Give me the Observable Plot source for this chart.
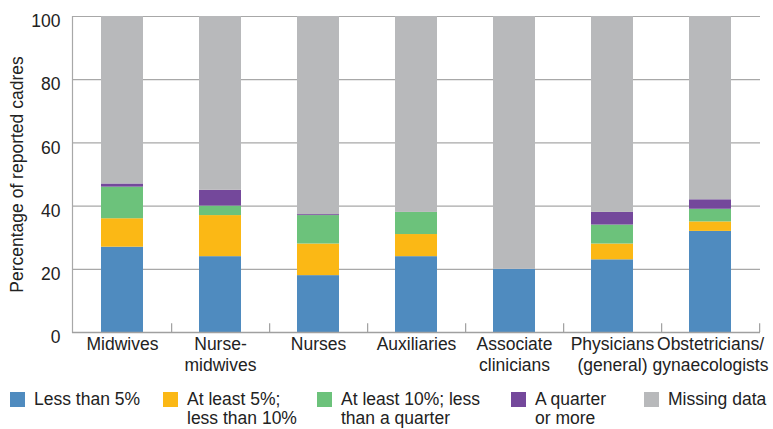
<!DOCTYPE html>
<html><head><meta charset="utf-8">
<script src="https://cdn.jsdelivr.net/npm/d3@7"></script>
<script src="https://cdn.jsdelivr.net/npm/@observablehq/plot@0.6"></script>
<style>
body{margin:0;background:#fff;font-family:"Liberation Sans",Arial,sans-serif;color:#222;}
#chart{position:relative;width:773px;height:429px;overflow:hidden;}
.item{position:absolute;top:390px;font-size:17.5px;line-height:19px;white-space:pre;}
.sw{position:absolute;left:0;top:2px;width:15px;height:15px;}
.lbl{position:absolute;left:24px;top:0;}
</style></head>
<body><div id="chart"></div>
<script>
const categories = ["Midwives","Nurse-midwives","Nurses","Auxiliaries","Associate clinicians","Physicians (general)","Obstetricians/gynaecologists"];
const categoryLabels = ["Midwives","Nurse-\nmidwives","Nurses","Auxiliaries","Associate\nclinicians","Physicians\n(general)","Obstetricians/\ngynaecologists"];
const series = ["Less than 5%","At least 5%; less than 10%","At least 10%; less than a quarter","A quarter or more","Missing data"];
const seriesLabels = ["Less than 5%","At least 5%;\nless than 10%","At least 10%; less\nthan a quarter","A quarter\nor more","Missing data"];
const lessThan5 = [27,24,18,24,20,23,32];
const from5to10 = [9,13,10,7,0,5,3];
const from10toQuarter = [10,3,9,7,0,6,4];
const quarterOrMore = [1,5,0.3,0,0,4,3];
const missingData = [53,55,62.7,62,80,62,58];
const yTicks = [0,20,40,60,80,100];
const colors = ["#4f8bbf","#fbb815","#6cc27b","#74489b","#b8b9bb"];

const seriesValues = [lessThan5, from5to10, from10toQuarter, quarterOrMore, missingData];
const table = [];
categories.forEach((c, i) => series.forEach((s, j) => table.push({category: c, series: s, value: seriesValues[j][i]})));

const W = 773, mL = 72, mR = 13;
const step = (W - mL - mR) / categories.length;
const labelOf = new Map(categories.map((c, i) => [c, categoryLabels[i]]));

const plot = Plot.plot({
  width: W, height: 378,
  marginTop: 16, marginBottom: 46, marginLeft: mL, marginRight: mR,
  style: {fontFamily: '"Liberation Sans", Arial, sans-serif', fontSize: "17.5px", color: "#222"},
  x: {domain: categories, paddingInner: 0.57, paddingOuter: 0.285, label: null},
  y: {domain: [0, 100], label: null},
  color: {domain: series, range: colors},
  marks: [
    Plot.gridY(yTicks.filter(d => d > 0), {stroke: "#a8a8a8", strokeOpacity: 1, strokeWidth: 1.2}),
    Plot.frame({anchor: "left", stroke: "#a8a8a8", strokeWidth: 1.2}),
    Plot.barY(table, {x: "category", y: "value", fill: "series", order: series, inset: 0}),
    Plot.ruleY([0], {stroke: "#a0a0a0", strokeWidth: 1.6}),
    Plot.ruleX(categories, {x: d => d, dx: step / 2, y1: 0, y2: 2.8, stroke: "#a0a0a0", strokeWidth: 1.2}),
    Plot.axisY(yTicks, {tickSize: 0, tickPadding: 12, dy: 5, label: "Percentage of reported cadres", labelAnchor: "center", labelArrow: "none", labelOffset: 62}),
    Plot.axisX({tickSize: 0, tickPadding: 3, tickFormat: d => labelOf.get(d), lineHeight: 1.2})
  ]
});
const chart = document.getElementById("chart");
chart.appendChild(plot);

const legendLeft = [10, 163, 317, 511, 644];
series.forEach((s, j) => {
  const it = document.createElement("div");
  it.className = "item";
  it.style.left = legendLeft[j] + "px";
  const sw = document.createElement("div");
  sw.className = "sw"; sw.style.background = colors[j];
  const lb = document.createElement("div");
  lb.className = "lbl"; lb.textContent = seriesLabels[j];
  it.appendChild(sw); it.appendChild(lb);
  chart.appendChild(it);
});
</script></body></html>
